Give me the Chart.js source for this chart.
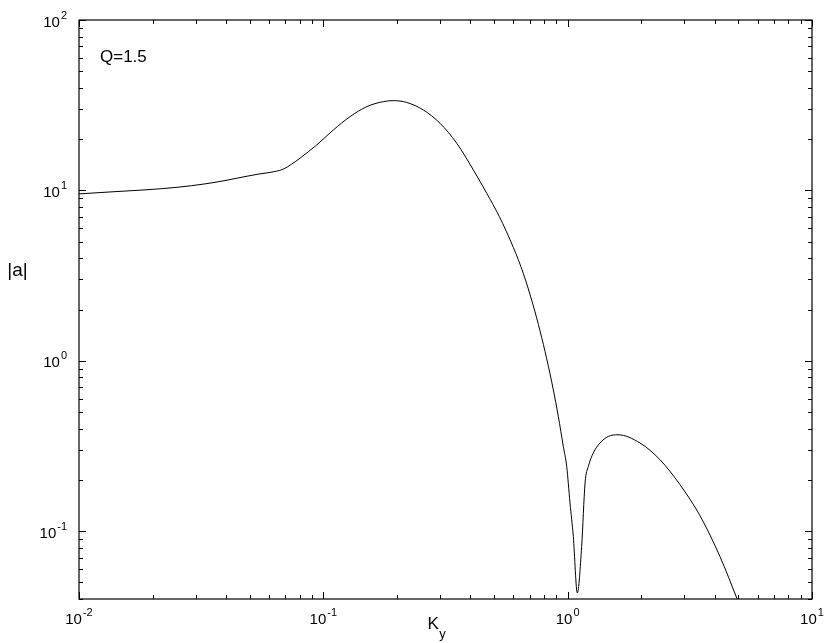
<!DOCTYPE html>
<html>
<head>
<meta charset="utf-8">
<script src="https://cdn.jsdelivr.net/npm/chart.js@4"></script>
<style>
  body { margin: 0; background: #fff; }
  canvas { display: block; }
</style>
</head>
<body>
<canvas id="chart" width="830" height="643"></canvas>
<script>
// curve: K_y and |a|
const kyValues = [
  0.0100, 0.01352, 0.01862, 0.02542, 0.03279, 0.03959, 0.04779, 0.05402,
  0.06048, 0.06839, 0.0742, 0.08025, 0.09396, 0.1099, 0.1286, 0.1505,
  0.1759, 0.1934, 0.2194, 0.2566, 0.3003, 0.3515, 0.4111, 0.4662,
  0.5253, 0.5991, 0.6583, 0.7236, 0.7705, 0.8209, 0.8735, 0.9157,
  0.9598, 0.991, 1.0223, 1.0546, 1.0952, 1.141, 1.178, 1.215,
  1.273, 1.356, 1.466, 1.607, 1.978, 2.387, 2.883, 3.48,
  4.203, 4.933, 5.13
];
const aValues = [
  9.54, 9.80, 10.07, 10.44, 10.92, 11.42, 12.05, 12.45,
  12.75, 13.31, 14.25, 15.45, 18.49, 22.63, 27.09, 31.0,
  33.18, 33.63, 32.82, 29.66, 24.78, 18.92, 13.19, 9.63,
  7.02, 4.63, 3.26, 2.101, 1.50, 1.027, 0.676, 0.4714,
  0.3144, 0.2399, 0.1463, 0.0932, 0.0434, 0.0815, 0.1917, 0.2399,
  0.2875, 0.3292, 0.3597, 0.368, 0.3292, 0.2627, 0.1874, 0.1233,
  0.0709, 0.0402, 0.035
];

const xMin = 0.01, xMax = 10;
const yMin = 0.04, yMax = 100;
const xTicks = [0.01, 0.1, 1, 10];
const xTickExp = ['-2', '-1', '0', '1'];
const yTicks = [0.1, 1, 10, 100];
const yTickExp = ['-1', '0', '1', '2'];

const FONT = "'Liberation Sans', Arial, Helvetica, sans-serif";

// draw "10" with a raised exponent
function drawPower(ctx, exp, xPos, baseline, align) {
  ctx.font = '15px ' + FONT;
  const wBase = ctx.measureText('10').width;
  ctx.font = '11px ' + FONT;
  const wExp = ctx.measureText(exp).width;
  const total = wBase + 1 + wExp;
  let left = align === 'center' ? xPos - total / 2 : xPos - total;
  ctx.textAlign = 'left';
  ctx.textBaseline = 'alphabetic';
  ctx.font = '15px ' + FONT;
  ctx.fillText('10', left, baseline);
  ctx.font = '11px ' + FONT;
  ctx.fillText(exp, left + wBase + 1, baseline - 8);
}

// values 1..9 x 10^d that fall inside a range
function logMarks(min, max) {
  const marks = [];
  for (let d = Math.floor(Math.log10(min)); d <= Math.ceil(Math.log10(max)); d++) {
    for (let m = 1; m <= 9; m++) {
      const v = m * Math.pow(10, d);
      if (v >= min * 0.9999 && v <= max * 1.0001) marks.push({ v: v, major: m === 1 });
    }
  }
  return marks;
}

const framePlugin = {
  id: 'frame',
  afterDraw(chart) {
    const { ctx, chartArea: a, scales } = chart;
    const xs = scales.x, ys = scales.y;
    ctx.save();
    ctx.strokeStyle = '#000';
    ctx.fillStyle = '#000';
    ctx.lineWidth = 1.2;
    ctx.strokeRect(a.left, a.top, a.right - a.left, a.bottom - a.top);

    ctx.lineWidth = 1;
    ctx.beginPath();
    logMarks(xMin, xMax).forEach(t => {
      const px = Math.round(xs.getPixelForValue(t.v)) + 0.5;
      const len = t.major ? 7 : 4;
      ctx.moveTo(px, a.bottom); ctx.lineTo(px, a.bottom - len);
      ctx.moveTo(px, a.top); ctx.lineTo(px, a.top + len);
    });
    logMarks(yMin, yMax).forEach(t => {
      const py = Math.round(ys.getPixelForValue(t.v)) + 0.5;
      const len = t.major ? 7 : 4;
      ctx.moveTo(a.left, py); ctx.lineTo(a.left + len, py);
      ctx.moveTo(a.right, py); ctx.lineTo(a.right - len, py);
    });
    ctx.stroke();

    xTicks.forEach((v, i) => {
      drawPower(ctx, xTickExp[i], xs.getPixelForValue(v), a.bottom + 25, 'center');
    });
    yTicks.forEach((v, i) => {
      drawPower(ctx, yTickExp[i], a.left - 12, ys.getPixelForValue(v) + 6.5, 'right');
    });

    // annotation
    ctx.textAlign = 'left';
    ctx.font = '17px ' + FONT;
    ctx.fillText('Q=1.5', a.left + 21, a.top + 42);

    // axis titles
    ctx.font = '19px ' + FONT;
    ctx.textAlign = 'center';
    ctx.fillText('|a|', 17.5, 276);

    const kx = (a.left + a.right) / 2 - 18;
    ctx.textAlign = 'left';
    ctx.font = '17px ' + FONT;
    ctx.fillText('K', kx, a.bottom + 30);
    const wK = ctx.measureText('K').width;
    ctx.font = '13px ' + FONT;
    ctx.fillText('y', kx + wK + 0.5, a.bottom + 39);
    ctx.restore();
  }
};

new Chart(document.getElementById('chart'), {
  type: 'scatter',
  data: {
    datasets: [{
      data: kyValues.map((k, i) => ({ x: k, y: aValues[i] })),
      showLine: true,
      borderColor: '#000',
      borderWidth: 1,
      pointRadius: 0,
      cubicInterpolationMode: 'monotone'
    }]
  },
  options: {
    responsive: false,
    animation: false,
    layout: { padding: { left: 79, top: 20, right: 18, bottom: 44 } },
    plugins: { legend: { display: false }, tooltip: { enabled: false } },
    scales: {
      x: { type: 'logarithmic', min: xMin, max: xMax, display: false },
      y: { type: 'logarithmic', min: yMin, max: yMax, display: false }
    }
  },
  plugins: [framePlugin]
});
</script>
</body>
</html>
